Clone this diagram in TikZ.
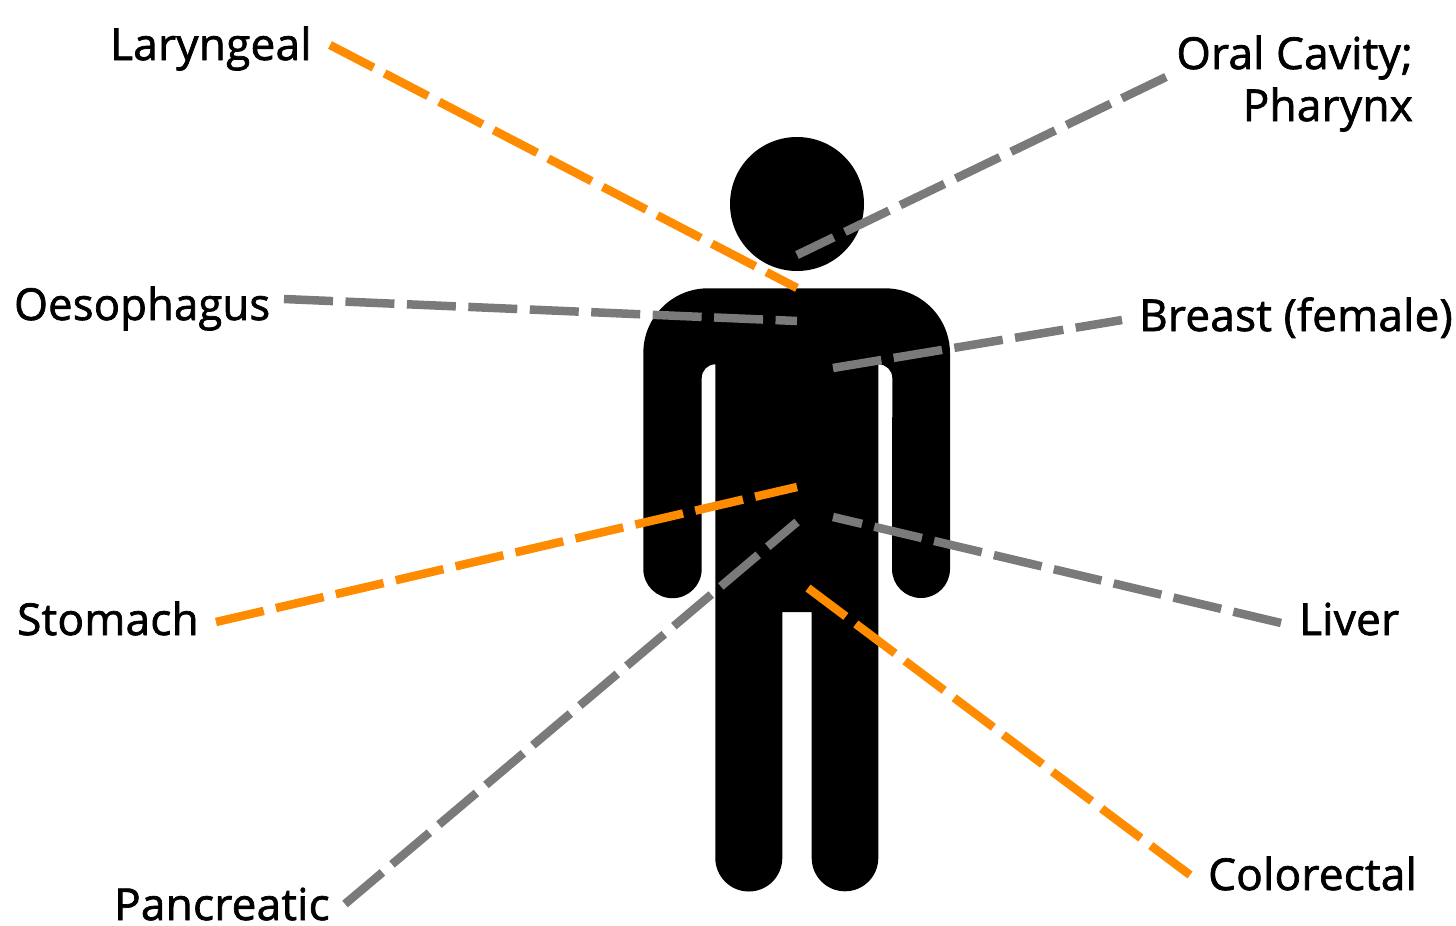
\documentclass[tikz,border=0pt]{standalone}
\usepackage{fontspec}
\setmainfont{Open Sans}[FakeBold=1.6,LetterSpace=0.7]
\definecolor{cOrange}{RGB}{255,139,0}
\definecolor{cGrey}{RGB}{122,122,122}
\tikzset{
  lab/.style={inner sep=0pt,font=\fontsize{44pt}{52pt}\selectfont,text=black},
  conn/.style={line width=8.5pt,dash pattern=on 49pt off 12.5pt},
  org/.style={conn,draw=cOrange},
  gry/.style={conn,draw=cGrey}
}
\begin{document}
\begin{tikzpicture}[x=1pt,y=-1pt]
\useasboundingbox (0,0) rectangle (1456,926);
\fill[black] (797,204) circle[radius=67];
\fill[black] (708,288.3) -- (885,288.3)
  arc[start angle=-90,end angle=0,radius=65] -- (950,569)
  arc[start angle=0,end angle=180,radius=29] -- (892.3,378)
  arc[start angle=0,end angle=-90,radius=13.7] -- (878.3,364.3)
  -- (878.3,858) arc[start angle=0,end angle=180,radius=33.3] -- (811.7,612) -- (782.3,612)
  -- (782.3,858) arc[start angle=0,end angle=180,radius=33.5] -- (715.3,364.3)
  arc[start angle=-90,end angle=-180,radius=13.6] -- (701.7,569)
  arc[start angle=0,end angle=180,radius=29.2] -- (643.3,353)
  arc[start angle=180,end angle=270,radius=64.7] -- cycle;
\node[lab,anchor=base west] (laryngeal) at (110,60) {Laryngeal};
\node[lab,anchor=base west,xscale=0.985] (oesophagus) at (14,320) {Oesophagus};
\node[lab,anchor=base west] (stomach) at (17,635) {Stomach};
\node[lab,anchor=base west] (pancreatic) at (114,920) {Pancreatic};
\node[lab,anchor=base east,align=right] (oral) at (1413,69) {Oral Cavity;};
\node[lab,anchor=base east] (pharynx) at (1413,121) {Pharynx};
\node[lab,anchor=base west] (breast) at (1139,331) {Breast (female)};
\node[lab,anchor=base west] (liver) at (1299,635) {Liver};
\node[lab,anchor=base west] (colorectal) at (1208,890) {Colorectal};
\coordinate (aL) at (330,45); \coordinate (bL) at (797,288);
\coordinate (aO) at (284,299); \coordinate (bO) at (797,321);
\coordinate (aS) at (216,622); \coordinate (bS) at (797,487);
\coordinate (aP) at (345,904); \coordinate (bP) at (797,522);
\coordinate (aC) at (1166,77); \coordinate (bC) at (797,255);
\coordinate (aB) at (833,368); \coordinate (bB) at (1122,320);
\coordinate (aV) at (1281,623); \coordinate (bV) at (833,517);
\coordinate (aR) at (1190,875); \coordinate (bR) at (808,588);
\draw[org] (aL) -- (bL);
\draw[gry] (aO) -- (bO);
\draw[org] (aS) -- (bS);
\draw[gry] (aP) -- (bP);
\draw[gry] (aC) -- (bC);
\draw[gry] (aB) -- (bB);
\draw[gry] (aV) -- (bV);
\draw[org] (aR) -- (bR);
\end{tikzpicture}
\end{document}
